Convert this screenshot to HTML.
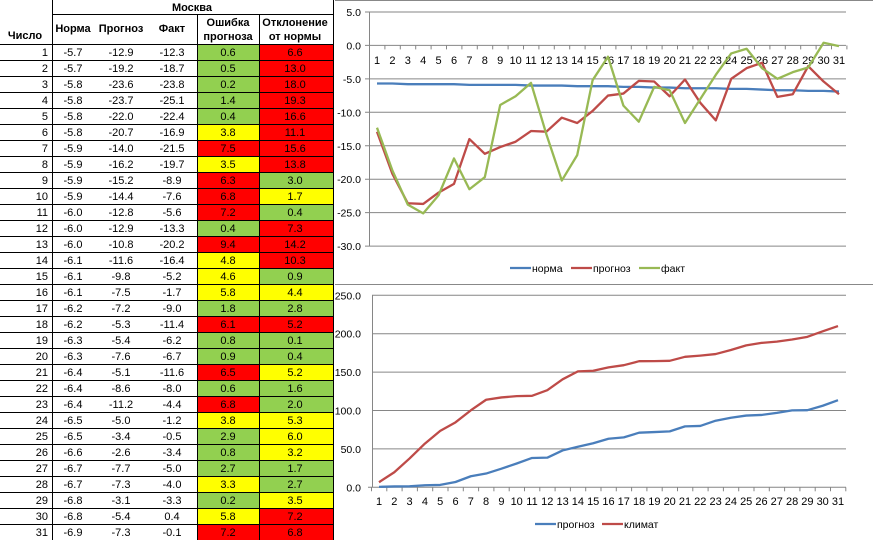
<!DOCTYPE html>
<html><head><meta charset="utf-8">
<style>
body{margin:0;width:873px;height:540px;background:#fff;overflow:hidden;font-family:"Liberation Sans",sans-serif}
svg{position:absolute;left:0;top:0}
</style></head><body>
<svg id="s" width="873" height="540" xmlns="http://www.w3.org/2000/svg" font-family="Liberation Sans, sans-serif"></svg>
<script>
const D=[[-5.7,-12.9,-12.3,0.6,'g',6.6,'r'],[-5.7,-19.2,-18.7,0.5,'g',13.0,'r'],[-5.8,-23.6,-23.8,0.2,'g',18.0,'r'],[-5.8,-23.7,-25.1,1.4,'g',19.3,'r'],[-5.8,-22.0,-22.4,0.4,'g',16.6,'r'],[-5.8,-20.7,-16.9,3.8,'y',11.1,'r'],[-5.9,-14.0,-21.5,7.5,'r',15.6,'r'],[-5.9,-16.2,-19.7,3.5,'y',13.8,'r'],[-5.9,-15.2,-8.9,6.3,'r',3.0,'g'],[-5.9,-14.4,-7.6,6.8,'r',1.7,'y'],[-6.0,-12.8,-5.6,7.2,'r',0.4,'g'],[-6.0,-12.9,-13.3,0.4,'g',7.3,'r'],[-6.0,-10.8,-20.2,9.4,'r',14.2,'r'],[-6.1,-11.6,-16.4,4.8,'y',10.3,'r'],[-6.1,-9.8,-5.2,4.6,'y',0.9,'g'],[-6.1,-7.5,-1.7,5.8,'y',4.4,'y'],[-6.2,-7.2,-9.0,1.8,'g',2.8,'g'],[-6.2,-5.3,-11.4,6.1,'r',5.2,'r'],[-6.3,-5.4,-6.2,0.8,'g',0.1,'g'],[-6.3,-7.6,-6.7,0.9,'g',0.4,'g'],[-6.4,-5.1,-11.6,6.5,'r',5.2,'y'],[-6.4,-8.6,-8.0,0.6,'g',1.6,'g'],[-6.4,-11.2,-4.4,6.8,'r',2.0,'g'],[-6.5,-5.0,-1.2,3.8,'y',5.3,'y'],[-6.5,-3.4,-0.5,2.9,'g',6.0,'y'],[-6.6,-2.6,-3.4,0.8,'g',3.2,'y'],[-6.7,-7.7,-5.0,2.7,'g',1.7,'g'],[-6.7,-7.3,-4.0,3.3,'y',2.7,'g'],[-6.8,-3.1,-3.3,0.2,'g',3.5,'y'],[-6.8,-5.4,0.4,5.8,'y',7.2,'r'],[-6.9,-7.3,-0.1,7.2,'r',6.8,'r']];
const C={g:'#92d050',y:'#ffff00',r:'#ff0000'};
let h='';
const f=v=>v.toFixed(1);
const T=(x,y,t,a,s,w)=>`<text x="${x}" y="${y}" text-anchor="${a||'middle'}" font-size="${s||11}" ${w?'font-weight="bold"':''}>${t}</text>`;
// table
for(let i=0;i<31;i++){const r=D[i],y=44+i*16;
h+=`<rect x="197" y="${y}" width="62" height="16" fill="${C[r[4]]}"/><rect x="259" y="${y}" width="74" height="16" fill="${C[r[6]]}"/>`;
h+=T(48,y+12,i+1,'end')+T(73,y+12,f(r[0]))+T(121,y+12,f(r[1]))+T(172,y+12,f(r[2]))+T(228,y+12,f(r[3]))+T(295,y+12,f(r[5]));}
for(let i=0;i<=31;i++){h+=`<line x1="0" x2="333" y1="${44+i*16+.5}" y2="${44+i*16+.5}" stroke="#000"/>`;}
h+=`<line x1="52" x2="333" y1="14.5" y2="14.5" stroke="#000"/>`;
[52,197,259,333].forEach(x=>h+=`<line x1="${x+.5}" x2="${x+.5}" y1="${x==52?0:14}" y2="540" stroke="#000"/>`);
h+=`<line x1="52.5" x2="52.5" y1="0" y2="14" stroke="#000"/><line x1="333.5" x2="333.5" y1="0" y2="14" stroke="#000"/>`;
h+=T(192,11,'Москва','middle',11,1)+T(25,39,'Число','middle',11,1)+T(73,32,'Норма','middle',11,1)+T(121,32,'Прогноз','middle',11,1)+T(172,32,'Факт','middle',11,1)+T(228,26,'Ошибка','middle',11,1)+T(228,40,'прогноза','middle',11,1)+T(295,26,'Отклонение','middle',11,1)+T(295,40,'от нормы','middle',11,1);
// separators
h+=`<line x1="335" x2="873" y1="0.5" y2="0.5" stroke="#888"/><line x1="335" x2="873" y1="284.5" y2="284.5" stroke="#888"/>`;
// top chart
const yt=v=>45.4-v*6.69, xt=i=>377+i*15.4;
for(let v=5;v>=-30;v-=5){const y=yt(v);h+=`<line x1="365" x2="846" y1="${y}" y2="${y}" stroke="#868686"/>`+T(361,y+4,f(v),'end',10.5);}
h+=`<line x1="369.5" x2="369.5" y1="${yt(5)}" y2="${yt(-30)}" stroke="#868686"/>`;
for(let i=0;i<=31;i++){const x=369.5+i*15.4;h+=`<line x1="${x}" x2="${x}" y1="${yt(0)}" y2="${yt(0)+4}" stroke="#868686"/>`;}
for(let i=0;i<31;i++)h+=T(xt(i),64,i+1,'middle',11);
const P=(a,fx,fy,c)=>`<polyline fill="none" stroke="${c}" stroke-width="2.3" stroke-linejoin="round" points="${a.map((v,i)=>fx(i)+','+fy(v)).join(' ')}"/>`;
h+=P(D.map(r=>r[0]),xt,yt,'#4a7ebb')+P(D.map(r=>r[1]),xt,yt,'#be4b48')+P(D.map(r=>r[2]),xt,yt,'#98b954');
const L=(x,y,c,t)=>`<line x1="${x}" x2="${x+21}" y1="${y}" y2="${y}" stroke="${c}" stroke-width="2.3"/>`+T(x+22,y+4,t,'start',10.5);
h+=L(510,268,'#4a7ebb','норма')+L(571,268,'#be4b48','прогноз')+L(639,268,'#98b954','факт');
// bottom chart
const yb=v=>487.3-v*0.768, xb=i=>379+i*15.3;
for(let v=0;v<=250;v+=50){const y=yb(v);h+=`<line x1="${v==0?368:372}" x2="846" y1="${y}" y2="${y}" stroke="#868686"/>`+T(361,y+4,f(v),'end',10.5);}
h+=`<line x1="372.5" x2="372.5" y1="${yb(250)}" y2="${yb(0)}" stroke="#868686"/>`;
for(let i=0;i<=31;i++){const x=371.5+i*15.3;h+=`<line x1="${x}" x2="${x}" y1="${yb(0)}" y2="${yb(0)+4}" stroke="#868686"/>`;}
for(let i=0;i<31;i++)h+=T(xb(i),505,i+1,'middle',11);
let a=0,b=0;const ce=D.map(r=>a+=r[3]),cd=D.map(r=>b+=r[5]);
h+=P(ce,xb,yb,'#4a7ebb')+P(cd,xb,yb,'#be4b48');
h+=L(535,524,'#4a7ebb','прогноз')+L(602,524,'#be4b48','климат');
document.getElementById('s').innerHTML=h;
</script>
</body></html>
